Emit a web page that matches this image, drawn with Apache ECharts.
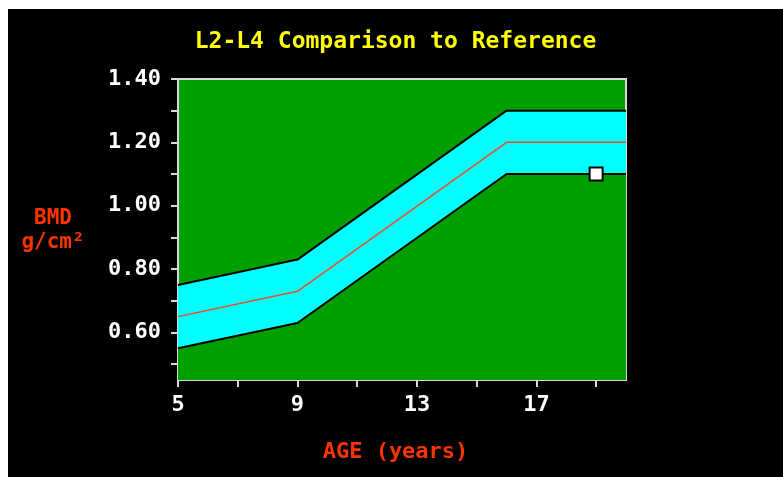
<!DOCTYPE html>
<html>
<head>
<meta charset="utf-8">
<script src="https://cdn.jsdelivr.net/npm/echarts@6/dist/echarts.min.js"></script>
<style>
  html, body { margin: 0; padding: 0; background: #ffffff; width: 783px; height: 477px; overflow: hidden; }
  #chart { position: absolute; left: 8px; top: 9px; width: 775px; height: 468px; }
</style>
</head>
<body>
<div id="chart"></div>
<script>
// Reference curve for L2-L4 bone mineral density by age
const ages = [5, 9, 16, 20];
const meanBmd = [0.65, 0.73, 1.20, 1.20];
const upperBmd = [0.75, 0.83, 1.30, 1.30];
const lowerBmd = [0.55, 0.63, 1.10, 1.10];
// Patient measurement [age, BMD]
const patient = [19, 1.10];

const yLabelValues = [0.6, 0.8, 1.0, 1.2, 1.4];
const yTickValues = [0.5, 0.6, 0.7, 0.8, 0.9, 1.0, 1.1, 1.2, 1.3, 1.4];
const xLabelValues = [5, 9, 13, 17];
const xTickValues = [5, 7, 9, 11, 13, 15, 17, 19];

const FONT = '"DejaVu Sans Mono", "Liberation Mono", monospace';
const pair = (xs, ys) => xs.map((x, i) => [x, ys[i]]);

const chart = echarts.init(document.getElementById('chart'));
chart.setOption({
  backgroundColor: '#000000',
  animation: false,
  title: {
    text: 'L2-L4 Comparison to Reference',
    left: 'center',
    top: 17,
    textStyle: { color: '#ffff00', fontFamily: FONT, fontWeight: 'bold', fontSize: 23 }
  },
  graphic: [
    { type: 'text', left: 10, top: 198,
      style: { text: 'BMD\ng/cm²', fill: '#ff3300', font: 'bold 21px ' + FONT, textAlign: 'center', lineHeight: 24, width: 70 } },
    { type: 'text', left: 'center', top: 432,
      style: { text: 'AGE (years)', fill: '#ff3300', font: 'bold 22px ' + FONT } }
  ],
  grid: {
    left: 170, top: 70, right: 157, bottom: 97,
    show: true, backgroundColor: '#009f00', borderColor: '#d8d8d8', borderWidth: 2
  },
  xAxis: {
    type: 'value', min: 5, max: 20,
    axisLine: { show: true, onZero: false, lineStyle: { color: '#d8d8d8', width: 2 } },
    axisTick: { show: true, length: 7, customValues: xTickValues, lineStyle: { color: '#d8d8d8', width: 2 } },
    axisLabel: { customValues: xLabelValues, color: '#ffffff', fontFamily: FONT, fontWeight: 'bold', fontSize: 22, margin: 14 },
    splitLine: { show: false }
  },
  yAxis: {
    type: 'value', min: 0.45, max: 1.40,
    axisLine: { show: true, onZero: false, lineStyle: { color: '#d8d8d8', width: 2 } },
    axisTick: { show: true, length: 7, customValues: yTickValues, lineStyle: { color: '#d8d8d8', width: 2 } },
    axisLabel: { customValues: yLabelValues, color: '#ffffff', fontFamily: FONT, fontWeight: 'bold', fontSize: 22, margin: 17,
      formatter: v => v.toFixed(2) },
    splitLine: { show: false }
  },
  series: [
    { type: 'line', data: pair(ages, upperBmd), symbol: 'none', z: 1,
      lineStyle: { color: '#000000', width: 2 },
      areaStyle: { color: '#00ffff', opacity: 1, origin: 'start' } },
    { type: 'line', data: pair(ages, lowerBmd), symbol: 'none', z: 2,
      lineStyle: { color: '#000000', width: 2 },
      areaStyle: { color: '#009f00', opacity: 1, origin: 'start' } },
    { type: 'line', data: pair(ages, meanBmd), symbol: 'none', z: 3,
      lineStyle: { color: '#f04a2a', width: 1.5 } },
    { type: 'scatter', data: [patient], symbol: 'rect', symbolSize: 13, z: 4,
      itemStyle: { color: '#ffffff', borderColor: '#000000', borderWidth: 2, opacity: 1 } }
  ]
});
</script>
</body>
</html>
